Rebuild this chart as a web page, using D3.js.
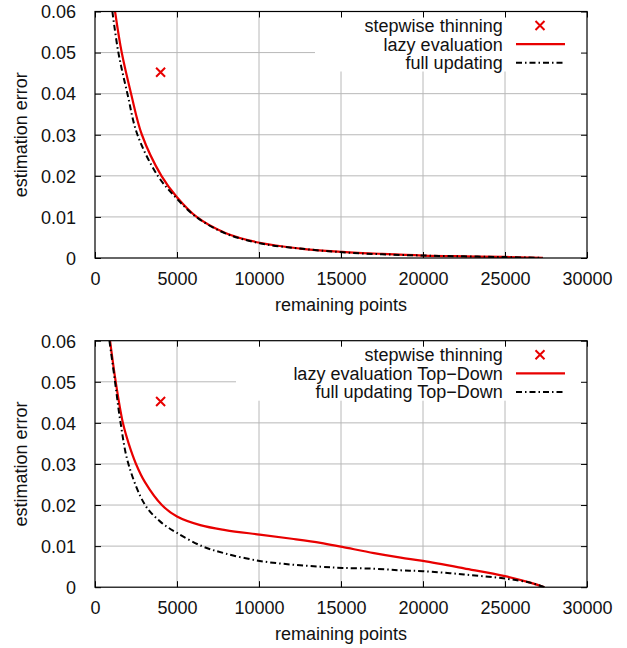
<!DOCTYPE html>
<html>
<head>
<meta charset="utf-8">
<script src="https://cdn.jsdelivr.net/npm/d3@7"></script>
<style>
  body { margin: 0; background: #fff; }
  svg text { font-family: "Liberation Sans", Arial, sans-serif; fill: #111; }
</style>
</head>
<body>
<div id="chart"></div>
<script>
// Tick values
var xTicks = [0, 5000, 10000, 15000, 20000, 25000, 30000];
var yTicks = [0, 0.01, 0.02, 0.03, 0.04, 0.05, 0.06];

// Stepwise thinning result (single point, both panels)
var stepwise = [[4000, 0.0452]];

// Top panel
var topLazy = [[1222, 0.06], [1630, 0.05], [2200, 0.04], [2860, 0.03], [4050, 0.02],
  [5000, 0.0148], [6200, 0.01], [7946, 0.0061], [10042, 0.0037],
  [12500, 0.0023], [15078, 0.0015], [17500, 0.001], [20000, 0.0006], [22500, 0.0004],
  [25000, 0.00025], [27300, 0.00003]];
var topFull = [[1060, 0.06], [1426, 0.05], [1976, 0.04], [2587, 0.03], [3830, 0.02],
  [5000, 0.0144], [6200, 0.0099], [7946, 0.006], [10042, 0.0036],
  [12500, 0.0023], [15078, 0.0014], [17500, 0.0009], [20000, 0.0006], [22500, 0.0004],
  [25000, 0.00022], [27300, 0.00003]];

// Bottom panel
var botLazy = [[917, 0.06], [1263, 0.05], [1700, 0.04], [2050, 0.035], [2500, 0.03], [3056, 0.0255],
  [4075, 0.02], [5000, 0.0172], [6418, 0.0151], [7946, 0.0139], [10042, 0.0128], [12000, 0.0118],
  [13752, 0.0108], [15078, 0.0098], [17010, 0.0083], [18642, 0.0072], [20000, 0.0064], [22500, 0.0046],
  [25000, 0.0027], [26587, 0.00105], [27400, 0]];
var botFull = [[880, 0.06], [1222, 0.05], [1560, 0.04], [2037, 0.03], [3056, 0.02], [4000, 0.0159],
  [5000, 0.0132], [6520, 0.01], [7946, 0.0082], [10042, 0.0064], [12000, 0.0055], [13752, 0.005],
  [15078, 0.0047], [17010, 0.0045], [18642, 0.0041], [20000, 0.0039], [22500, 0.0031],
  [25000, 0.0021], [26587, 0.00105], [27400, 0]];

var panels = [
  { top: 11.5, lazy: topLazy, full: topFull,
    names: ["stepwise thinning", "lazy evaluation", "full updating"], legendX: 315 },
  { top: 340.7, lazy: botLazy, full: botFull,
    names: ["stepwise thinning", "lazy evaluation Top\u2212Down", "full updating Top\u2212Down"], legendX: 236 }
];

var W = 627, H = 648;
var left = 95, right = 587, plotH = 246.5;
var red = "#e80000", grid = "#b8b8b8";
var dash = "6,3,1.5,3";

var svg = d3.select("#chart").append("svg")
  .attr("width", W).attr("height", H);

var x = d3.scaleLinear().domain([0, 30000]).range([left, right]);

function cross(cx, cy) {
  return "M" + (cx - 4.5) + "," + (cy - 4.5) + "L" + (cx + 4.5) + "," + (cy + 4.5) +
         "M" + (cx - 4.5) + "," + (cy + 4.5) + "L" + (cx + 4.5) + "," + (cy - 4.5);
}

panels.forEach(function(p, i) {
  var y = d3.scaleLinear().domain([0, 0.06]).range([p.top + plotH, p.top]);
  var g = svg.append("g");

  // Grid
  g.append("g").selectAll("line").data(xTicks.slice(1, -1)).enter().append("line")
    .attr("x1", d => x(d)).attr("x2", d => x(d))
    .attr("y1", y(0)).attr("y2", y(0.06))
    .attr("stroke", grid).attr("stroke-width", 1);
  g.append("g").selectAll("line").data(yTicks.slice(1, -1)).enter().append("line")
    .attr("x1", left).attr("x2", right)
    .attr("y1", d => y(d)).attr("y2", d => y(d))
    .attr("stroke", grid).attr("stroke-width", 1);

  // Legend box covers the grid
  g.append("rect")
    .attr("x", p.legendX).attr("y", p.top)
    .attr("width", right - p.legendX).attr("height", 60)
    .attr("fill", "#fff");

  // Curves
  var clipId = "clip" + i;
  svg.append("clipPath").attr("id", clipId).append("rect")
    .attr("x", left).attr("y", p.top).attr("width", right - left).attr("height", plotH);

  var line = d3.line().x(d => x(d[0])).y(d => y(d[1])).curve(d3.curveCatmullRom.alpha(0.5));

  g.append("path").datum(p.lazy)
    .attr("clip-path", "url(#" + clipId + ")")
    .attr("d", line).attr("fill", "none")
    .attr("stroke", red).attr("stroke-width", 2.2);
  g.append("path").datum(p.full)
    .attr("clip-path", "url(#" + clipId + ")")
    .attr("d", line).attr("fill", "none")
    .attr("stroke", "#000").attr("stroke-width", 2)
    .attr("stroke-dasharray", dash);

  // Stepwise point
  g.selectAll(".pt").data(stepwise).enter().append("path")
    .attr("class", "pt")
    .attr("d", d => cross(x(d[0]), y(d[1])))
    .attr("stroke", red).attr("stroke-width", 2);

  // Border
  g.append("rect")
    .attr("x", left).attr("y", p.top).attr("width", right - left).attr("height", plotH)
    .attr("fill", "none").attr("stroke", "#000").attr("stroke-width", 1.2);

  // Axes (inward ticks on all sides)
  var axB = g.append("g").attr("transform", "translate(0," + y(0) + ")")
    .call(d3.axisBottom(x).tickValues(xTicks).tickSize(-6).tickPadding(14).tickFormat(d3.format("d")));
  var axT = g.append("g").attr("transform", "translate(0," + y(0.06) + ")")
    .call(d3.axisTop(x).tickValues(xTicks).tickSize(-6).tickFormat(""));
  var axL = g.append("g").attr("transform", "translate(" + left + ",0)")
    .call(d3.axisLeft(y).tickValues(yTicks).tickSize(-6).tickPadding(19)
      .tickFormat(d => d === 0 ? "0" : d3.format(".2f")(d)));
  var axR = g.append("g").attr("transform", "translate(" + right + ",0)")
    .call(d3.axisRight(y).tickValues(yTicks).tickSize(-6).tickFormat(""));
  [axB, axT, axL, axR].forEach(function(a) {
    a.select(".domain").remove();
    a.selectAll("line").attr("stroke", "#000").attr("stroke-width", 1);
    a.selectAll("text").style("font-size", "18px").attr("fill", "#111");
  });
  axB.selectAll("text").attr("dy", "0.71em").attr("y", 14);
  axL.selectAll("text").attr("dy", "0.35em");

  // Axis labels
  g.append("text")
    .attr("x", (left + right) / 2).attr("y", y(0) + 53)
    .attr("text-anchor", "middle").style("font-size", "18px")
    .text("remaining points");
  g.append("text")
    .attr("transform", "translate(26.7," + (p.top + plotH / 2) + ") rotate(-90)")
    .attr("text-anchor", "middle").style("font-size", "18px")
    .text("estimation error");

  // Legend
  var rows = [14, 32.7, 51.3];
  var leg = g.append("g");
  leg.selectAll("text").data(p.names).enter().append("text")
    .attr("x", 502.7).attr("y", (d, k) => p.top + rows[k])
    .attr("dy", "0.35em").attr("text-anchor", "end").style("font-size", "18px")
    .text(d => d);
  leg.append("path")
    .attr("d", cross(540, p.top + rows[0]))
    .attr("stroke", red).attr("stroke-width", 2);
  leg.append("line")
    .attr("x1", 516).attr("x2", 565).attr("y1", p.top + rows[1]).attr("y2", p.top + rows[1])
    .attr("stroke", red).attr("stroke-width", 2.2);
  leg.append("line")
    .attr("x1", 516).attr("x2", 565).attr("y1", p.top + rows[2]).attr("y2", p.top + rows[2])
    .attr("stroke", "#000").attr("stroke-width", 2).attr("stroke-dasharray", dash);
});
</script>
</body>
</html>
